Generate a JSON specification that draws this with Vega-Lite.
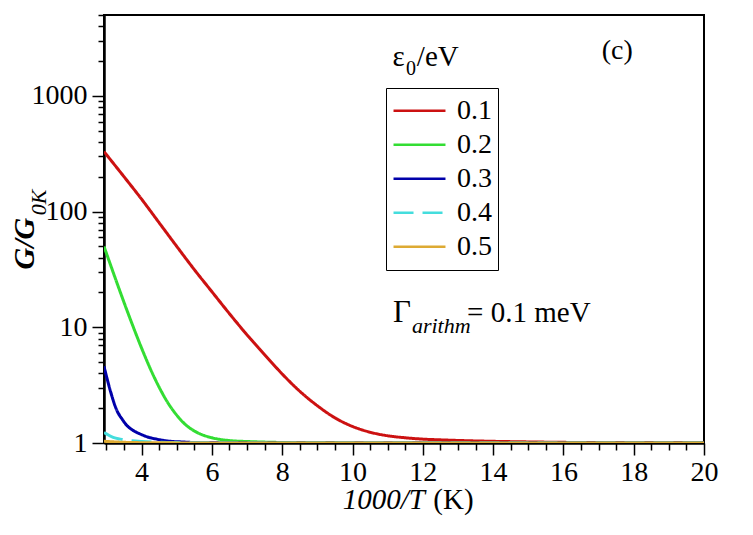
{
  "$schema": "https://vega.github.io/schema/vega-lite/v6.json",
  "width": 600,
  "height": 428,
  "autosize": {"type": "none"},
  "padding": {"left": 104, "top": 15, "right": 49, "bottom": 92},
  "background": "white",
  "view": {"stroke": "black", "strokeWidth": 2},
  "config": {
    "font": "Liberation Serif",
    "text": {"font": "Liberation Serif", "color": "black"},
    "axis": {
      "domainColor": "black", "domainWidth": 2.5, "tickColor": "black", "tickWidth": 1.5,
      "labelFont": "Liberation Serif", "labelFontSize": 28, "labelColor": "black",
      "grid": false, "title": null, "labelOverlap": false, "labelFlush": false
    },
    "legend": {"labelFont": "Liberation Serif"}
  },
  "resolve": {"axis": {"x": "independent", "y": "independent"}},
  "data": {
    "values": [
      {"x": 2.93, "g": 330, "e": "0.1"}, {"x": 3.5, "g": 200, "e": "0.1"}, {"x": 4.0, "g": 128, "e": "0.1"},
      {"x": 4.5, "g": 80, "e": "0.1"}, {"x": 5.0, "g": 50, "e": "0.1"}, {"x": 5.5, "g": 31.5, "e": "0.1"},
      {"x": 6.0, "g": 20.3, "e": "0.1"}, {"x": 6.5, "g": 13.1, "e": "0.1"}, {"x": 7.0, "g": 8.6, "e": "0.1"},
      {"x": 7.5, "g": 5.8, "e": "0.1"}, {"x": 8.0, "g": 3.95, "e": "0.1"}, {"x": 8.5, "g": 2.8, "e": "0.1"},
      {"x": 9.0, "g": 2.1, "e": "0.1"}, {"x": 9.5, "g": 1.65, "e": "0.1"}, {"x": 10.0, "g": 1.39, "e": "0.1"},
      {"x": 10.5, "g": 1.24, "e": "0.1"}, {"x": 11.0, "g": 1.155, "e": "0.1"}, {"x": 11.5, "g": 1.11, "e": "0.1"},
      {"x": 12.0, "g": 1.08, "e": "0.1"}, {"x": 12.5, "g": 1.065, "e": "0.1"}, {"x": 13.0, "g": 1.052, "e": "0.1"},
      {"x": 13.5, "g": 1.042, "e": "0.1"}, {"x": 14.0, "g": 1.034, "e": "0.1"}, {"x": 15.0, "g": 1.022, "e": "0.1"},
      {"x": 16.0, "g": 1.013, "e": "0.1"}, {"x": 17.0, "g": 1.008, "e": "0.1"}, {"x": 18.0, "g": 1.005, "e": "0.1"},
      {"x": 20.0, "g": 1.002, "e": "0.1"},

      {"x": 2.93, "g": 50, "e": "0.2"}, {"x": 3.1, "g": 35.7, "e": "0.2"}, {"x": 3.3, "g": 24.1, "e": "0.2"},
      {"x": 3.5, "g": 16.4, "e": "0.2"}, {"x": 3.75, "g": 10.3, "e": "0.2"}, {"x": 4.0, "g": 6.6, "e": "0.2"},
      {"x": 4.25, "g": 4.37, "e": "0.2"}, {"x": 4.5, "g": 3.03, "e": "0.2"}, {"x": 4.75, "g": 2.22, "e": "0.2"},
      {"x": 5.0, "g": 1.74, "e": "0.2"}, {"x": 5.25, "g": 1.44, "e": "0.2"}, {"x": 5.5, "g": 1.27, "e": "0.2"},
      {"x": 5.75, "g": 1.17, "e": "0.2"}, {"x": 6.0, "g": 1.11, "e": "0.2"}, {"x": 6.5, "g": 1.05, "e": "0.2"},
      {"x": 7.0, "g": 1.03, "e": "0.2"}, {"x": 7.5, "g": 1.018, "e": "0.2"}, {"x": 8.0, "g": 1.01, "e": "0.2"},
      {"x": 9.0, "g": 1.004, "e": "0.2"}, {"x": 10.0, "g": 1.002, "e": "0.2"}, {"x": 12.0, "g": 1.001, "e": "0.2"},
      {"x": 20.0, "g": 1.0, "e": "0.2"},

      {"x": 2.93, "g": 4.6, "e": "0.3"}, {"x": 3.1, "g": 2.9, "e": "0.3"}, {"x": 3.29, "g": 1.93, "e": "0.3"},
      {"x": 3.45, "g": 1.6, "e": "0.3"}, {"x": 3.57, "g": 1.43, "e": "0.3"}, {"x": 3.75, "g": 1.29, "e": "0.3"},
      {"x": 3.95, "g": 1.2, "e": "0.3"}, {"x": 4.2, "g": 1.12, "e": "0.3"}, {"x": 4.43, "g": 1.08, "e": "0.3"},
      {"x": 4.75, "g": 1.04, "e": "0.3"}, {"x": 5.18, "g": 1.02, "e": "0.3"}, {"x": 5.5, "g": 1.01, "e": "0.3"},
      {"x": 6.0, "g": 1.005, "e": "0.3"}, {"x": 8.0, "g": 1.001, "e": "0.3"}, {"x": 20.0, "g": 1.0, "e": "0.3"},

      {"x": 2.93, "g": 1.23, "e": "0.4"}, {"x": 3.19, "g": 1.12, "e": "0.4"}, {"x": 3.4, "g": 1.08, "e": "0.4"},
      {"x": 3.67, "g": 1.05, "e": "0.4"}, {"x": 4.0, "g": 1.03, "e": "0.4"}, {"x": 4.5, "g": 1.015, "e": "0.4"},
      {"x": 5.0, "g": 1.008, "e": "0.4"}, {"x": 6.0, "g": 1.003, "e": "0.4"}, {"x": 8.0, "g": 1.001, "e": "0.4"},
      {"x": 20.0, "g": 1.0, "e": "0.4"},

      {"x": 2.93, "g": 1.035, "e": "0.5"}, {"x": 3.3, "g": 1.02, "e": "0.5"}, {"x": 3.7, "g": 1.01, "e": "0.5"},
      {"x": 4.5, "g": 1.004, "e": "0.5"}, {"x": 6.0, "g": 1.001, "e": "0.5"}, {"x": 20.0, "g": 1.0, "e": "0.5"}
    ]
  },
  "layer": [
    {
      "mark": {"type": "line", "strokeWidth": 3, "clip": true, "interpolate": "monotone"},
      "encoding": {
        "x": {
          "field": "x", "type": "quantitative",
          "scale": {"domain": [2.93, 20], "nice": false, "zero": false},
          "axis": {
            "values": [3, 3.5, 4, 4.5, 5, 5.5, 6, 6.5, 7, 7.5, 8, 8.5, 9, 9.5, 10, 10.5, 11, 11.5, 12, 12.5, 13, 13.5, 14, 14.5, 15, 15.5, 16, 16.5, 17, 17.5, 18, 18.5, 19, 19.5, 20],
            "labelExpr": "datum.value % 2 == 0 ? format(datum.value, 'd') : ''",
            "tickSize": {"condition": {"test": "datum.value % 2 == 0", "value": 12}, "value": 7},
            "labelPadding": 3
          }
        },
        "y": {
          "field": "g", "type": "quantitative",
          "scale": {"type": "log", "domain": [1, 5000], "nice": false},
          "axis": {
            "values": [1, 2, 3, 4, 5, 6, 7, 8, 9, 10, 20, 30, 40, 50, 60, 70, 80, 90, 100, 200, 300, 400, 500, 600, 700, 800, 900, 1000, 2000, 3000, 4000, 5000],
            "labelExpr": "indexof([1, 10, 100, 1000], datum.value) >= 0 ? format(datum.value, 'd') : ''",
            "tickSize": {"condition": {"test": "indexof([1, 10, 100, 1000], datum.value) >= 0", "value": 12}, "value": 6},
            "labelPadding": 5
          }
        },
        "color": {
          "field": "e", "type": "nominal",
          "scale": {"domain": ["0.1", "0.2", "0.3", "0.4", "0.5"], "range": ["#cc1111", "#33dd33", "#0000aa", "#44dddd", "#ddaa33"]},
          "legend": {
            "orient": "none", "legendX": 282, "legendY": 73, "title": null,
            "strokeColor": "black", "fillColor": "white", "padding": 6,
            "symbolType": "stroke", "symbolSize": 2700, "symbolStrokeWidth": 2.5,
            "labelFontSize": 28, "labelColor": "black",
            "labelOffset": 10, "rowPadding": 0, "clipHeight": 33.4
          }
        },
        "strokeDash": {
          "field": "e", "type": "nominal",
          "scale": {"domain": ["0.1", "0.2", "0.3", "0.4", "0.5"], "range": [[1, 0], [1, 0], [1, 0], [20, 9], [1, 0]]},
          "legend": {
            "orient": "none", "legendX": 282, "legendY": 73, "title": null,
            "strokeColor": "black", "fillColor": "white", "padding": 6,
            "symbolType": "stroke", "symbolSize": 2700, "symbolStrokeWidth": 2.5,
            "labelFontSize": 28, "labelColor": "black",
            "labelOffset": 10, "rowPadding": 0, "clipHeight": 33.4
          }
        }
      }
    },
    {
      "data": {"values": [{}]},
      "mark": {"type": "text", "text": "G/G", "angle": 270, "align": "left", "baseline": "alphabetic", "fontSize": 30, "fontStyle": "italic", "fontWeight": "bold"},
      "encoding": {"x": {"datum": 0.93, "axis": null}, "y": {"datum": 31.6, "axis": null}}
    },
    {
      "data": {"values": [{}]},
      "mark": {"type": "text", "text": "0K", "angle": 270, "align": "left", "baseline": "alphabetic", "fontSize": 22, "fontStyle": "italic"},
      "encoding": {"x": {"datum": 1.27, "axis": null}, "y": {"datum": 93, "axis": null}}
    },
    {
      "data": {"values": [{}]},
      "mark": {"type": "text", "text": "1000/T", "align": "right", "baseline": "alphabetic", "fontSize": 29, "fontStyle": "italic"},
      "encoding": {"x": {"datum": 12.06, "axis": null}, "y": {"datum": 0.268, "axis": null}}
    },
    {
      "data": {"values": [{}]},
      "mark": {"type": "text", "text": "(K)", "align": "left", "baseline": "alphabetic", "fontSize": 29},
      "encoding": {"x": {"datum": 12.3, "axis": null}, "y": {"datum": 0.268, "axis": null}}
    },
    {
      "data": {"values": [{}]},
      "mark": {"type": "text", "text": "(c)", "align": "left", "baseline": "alphabetic", "fontSize": 28},
      "encoding": {"x": {"datum": 17.09, "axis": null}, "y": {"datum": 2099, "axis": null}}
    },
    {
      "data": {"values": [{}]},
      "mark": {"type": "text", "text": "ε", "align": "left", "baseline": "alphabetic", "fontSize": 29},
      "encoding": {"x": {"datum": 11.14, "axis": null}, "y": {"datum": 1824, "axis": null}}
    },
    {
      "data": {"values": [{}]},
      "mark": {"type": "text", "text": "0", "align": "left", "baseline": "alphabetic", "fontSize": 20},
      "encoding": {"x": {"datum": 11.52, "axis": null}, "y": {"datum": 1524, "axis": null}}
    },
    {
      "data": {"values": [{}]},
      "mark": {"type": "text", "text": "/eV", "align": "left", "baseline": "alphabetic", "fontSize": 29},
      "encoding": {"x": {"datum": 11.83, "axis": null}, "y": {"datum": 1824, "axis": null}}
    },
    {
      "data": {"values": [{}]},
      "mark": {"type": "text", "text": "Γ", "align": "left", "baseline": "alphabetic", "fontSize": 31},
      "encoding": {"x": {"datum": 11.15, "axis": null}, "y": {"datum": 11.2, "axis": null}}
    },
    {
      "data": {"values": [{}]},
      "mark": {"type": "text", "text": "arithm", "align": "left", "baseline": "alphabetic", "fontSize": 22, "fontStyle": "italic"},
      "encoding": {"x": {"datum": 11.69, "axis": null}, "y": {"datum": 9.0, "axis": null}}
    },
    {
      "data": {"values": [{}]},
      "mark": {"type": "text", "text": "= 0.1 meV", "align": "left", "baseline": "alphabetic", "fontSize": 29},
      "encoding": {"x": {"datum": 13.26, "axis": null}, "y": {"datum": 11.2, "axis": null}}
    }
  ]
}
